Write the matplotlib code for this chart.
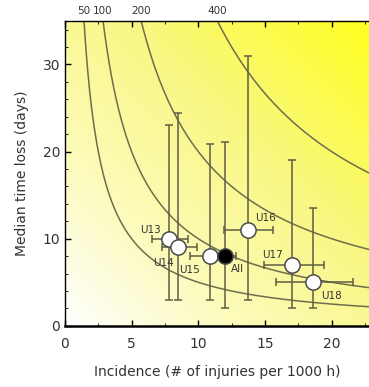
import numpy as np
import matplotlib
matplotlib.use("Agg")
from matplotlib import pyplot as plt
from matplotlib.colors import LinearSegmentedColormap

# age groups: incidence (per 1000 h) and median time loss (days)
groups = ["U13", "U14", "U15", "All", "U16", "U17", "U18"]
incidence = [7.8, 8.5, 10.9, 12.0, 13.7, 17.0, 18.6]
inc_lo = [6.5, 7.3, 9.4, 11.1, 11.9, 14.9, 15.8]
inc_hi = [9.2, 9.9, 11.6, 12.8, 15.6, 19.4, 21.6]
timeloss = [10, 9, 8, 8, 11, 7, 5]
tl_lo = [3, 3, 3, 2, 3, 2, 2]
tl_hi = [23.1, 24.4, 20.9, 21.1, 31, 19, 13.5]
burdens = [50, 100, 200, 400]

label_offsets = [(-13, 6), (-11, -11), (-15, -10), (9, -9), (13, 9), (-14, 7), (13, -10)]

xmax, ymax = 22.8, 35
line_col = "#6e6e4c"

fig = plt.figure(figsize=(3.69, 3.87), dpi=100)
ax = fig.add_axes([0.176, 0.158, 0.824, 0.788])

# white -> yellow diagonal background
gx, gy = np.meshgrid(np.linspace(0, 1, 200), np.linspace(0, 1, 200))
grad = (gx + gy) / 2
cmap = LinearSegmentedColormap.from_list(
    "wy", [(0, "#ffffff"), (0.3, "#fcfbb8"), (0.6, "#f9f784"), (1, "#ffff20")])
ax.imshow(grad, extent=[0, xmax, 0, ymax], origin="lower", cmap=cmap,
          aspect="auto", zorder=0)

# iso-burden curves (incidence * time loss = burden)
xs = np.linspace(0.5, xmax, 400)
for b in burdens:
    ax.plot(xs, b / xs, color=line_col, lw=1.1, zorder=1)
    ax.text(b / ymax, ymax + 0.6, str(b), ha="center", va="bottom",
            fontsize=7.5, color="#333333")

xerr = [np.array(incidence) - np.array(inc_lo), np.array(inc_hi) - np.array(incidence)]
yerr = [np.array(timeloss) - np.array(tl_lo), np.array(tl_hi) - np.array(timeloss)]
ax.errorbar(incidence, timeloss, xerr=xerr, yerr=yerr, fmt="none",
            ecolor="#5e5e44", elinewidth=1.1, capsize=3, capthick=1.1, zorder=2)

for g, x, y, off in zip(groups, incidence, timeloss, label_offsets):
    face = "black" if g == "All" else "white"
    ax.plot(x, y, "o", ms=11, mfc=face, mec="#4a4a4a", mew=1.1, zorder=3)
    ax.annotate(g, (x, y), xytext=off, textcoords="offset points",
                ha="center", va="center", fontsize=7.5, color="#333333", zorder=4)

ax.set_xlim(0, xmax)
ax.set_ylim(0, ymax)
ax.set_xticks([0, 5, 10, 15, 20])
ax.set_yticks([0, 10, 20, 30])
ax.set_xticks(np.arange(0, xmax, 2.5), minor=True)
ax.set_yticks(np.arange(0, ymax, 2), minor=True)
ax.tick_params(direction="in", top=True, labelsize=10, labelcolor="#333333",
               length=4, width=1)
ax.tick_params(which="minor", direction="in", top=True, length=2)
ax.tick_params(axis="x", pad=8)
ax.spines["right"].set_visible(False)
ax.spines["bottom"].set_linewidth(1.8)
ax.spines["left"].set_linewidth(1.0)
ax.spines["top"].set_linewidth(1.0)

ax.set_xlabel("Incidence (# of injuries per 1000 h)", fontsize=10,
              color="#333333", labelpad=10)
ax.set_ylabel("Median time loss (days)", fontsize=10, color="#333333",
              labelpad=10)

fig.savefig("out.png", dpi=100)
